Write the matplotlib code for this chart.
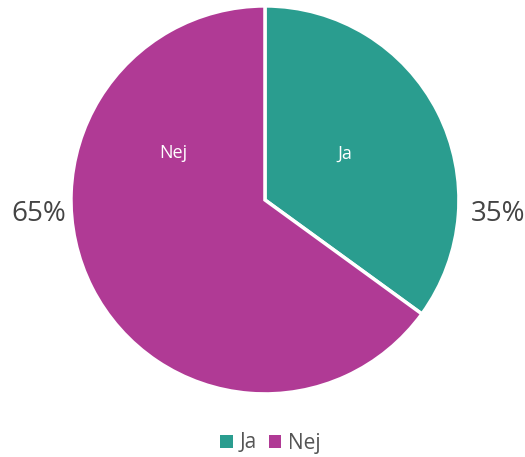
import matplotlib
matplotlib.use("Agg")
from matplotlib import pyplot as plt
from matplotlib.patches import Patch

labels = ["Ja", "Nej"]
values = [35, 65]
colors = ["#2a9d8f", "#b03a95"]

plt.rcParams["font.family"] = ["Open Sans", "DejaVu Sans"]

fig = plt.figure(figsize=(5.25, 4.57), dpi=100)
ax = fig.add_axes([0.1352, 0.138, 0.7390, 0.8490])

wedges, _ = ax.pie(values, colors=colors, startangle=90, counterclock=False,
                   radius=1, wedgeprops=dict(edgecolor="white", linewidth=2.5))
ax.set_xlim(-1.0, 1.0)
ax.set_ylim(-1.0, 1.0)
ax.set_aspect("auto")
ax.axis("off")

# inside labels
ax.text(0.41, 0.24, labels[0], color="white", fontsize=13, ha="center", va="center")
ax.text(-0.47, 0.24, labels[1], color="white", fontsize=13, ha="center", va="center")

# percentages outside
ax.text(1.20, -0.075, f"{values[0]}%", color="#444444", fontsize=20, ha="center", va="center")
ax.text(-1.165, -0.075, f"{values[1]}%", color="#444444", fontsize=20, ha="center", va="center")

handles = [Patch(facecolor=c, edgecolor="none") for c in colors]
fig.legend(handles, labels, loc="center", bbox_to_anchor=(0.515, 1 - 443 / 457),
           ncol=2, frameon=False, fontsize=15, labelcolor="#555555",
           handlelength=0.6, handleheight=0.6, handletextpad=0.3, columnspacing=0.6)

fig.savefig("out.png", dpi=100)
